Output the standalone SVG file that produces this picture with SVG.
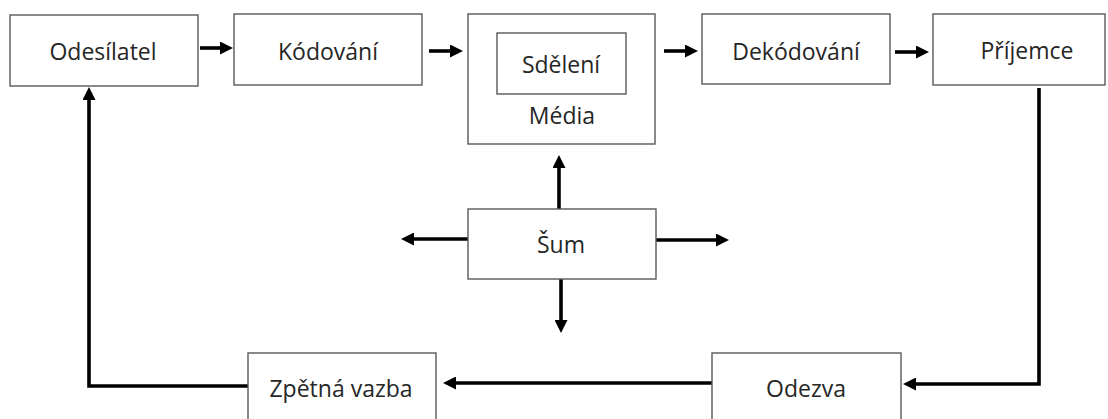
<svg xmlns="http://www.w3.org/2000/svg" width="1108" height="419" viewBox="0 0 1108 419">
<style>
.box{fill:#fff;stroke:#595959;stroke-width:1.4}
.lbl{font-family:"Open Sans","Noto Sans",sans-serif;font-size:23px;fill:#262626;text-anchor:middle}
.con{fill:none;stroke:#000;stroke-width:3.6;stroke-linejoin:miter}
</style>
<defs>
<marker id="ah" markerUnits="userSpaceOnUse" markerWidth="13" markerHeight="13" refX="2" refY="6.5" orient="auto" viewBox="0 0 13 13">
<path d="M0,0 L13,6.5 L0,13 z" fill="#000"/>
</marker>
</defs>
<rect width="1108" height="419" fill="#fff"/>
<g id="connectors">
<path class="con" d="M200,48 H222" marker-end="url(#ah)"/>
<path class="con" d="M429,51 H452" marker-end="url(#ah)"/>
<path class="con" d="M664,51 H687" marker-end="url(#ah)"/>
<path class="con" d="M895,52 H918" marker-end="url(#ah)"/>
<path class="con" d="M1039,88 V384 H914" marker-end="url(#ah)"/>
<path class="con" d="M712,383 H454" marker-end="url(#ah)"/>
<path class="con" d="M248,386 H89 V98" marker-end="url(#ah)"/>
<path class="con" d="M559,209 V166" marker-end="url(#ah)"/>
<path class="con" d="M468,239 H412" marker-end="url(#ah)"/>
<path class="con" d="M656,240 H718" marker-end="url(#ah)"/>
<path class="con" d="M561,279 V322" marker-end="url(#ah)"/>
</g>
<g id="odesilatel"><rect class="box" x="10" y="15" width="188" height="71"/><text class="lbl" x="103" y="60">Odesílatel</text></g>
<g id="kodovani"><rect class="box" x="234" y="14" width="188" height="71"/><text class="lbl" x="328" y="60">Kódování</text></g>
<g id="media"><rect class="box" x="468" y="14" width="187" height="130"/><text class="lbl" x="562" y="124">Média</text></g>
<g id="sdeleni"><rect class="box" x="497" y="33" width="129" height="61"/><text class="lbl" x="561" y="73">Sdělení</text></g>
<g id="dekodovani"><rect class="box" x="702" y="14" width="188" height="70"/><text class="lbl" x="796" y="60">Dekódování</text></g>
<g id="prijemce"><rect class="box" x="933" y="14" width="172" height="71"/><text class="lbl" x="1027" y="59">Příjemce</text></g>
<g id="sum"><rect class="box" x="468" y="209" width="188" height="70"/><text class="lbl" x="561" y="253">Šum</text></g>
<g id="zpetna-vazba"><rect class="box" x="248" y="353" width="188" height="72"/><text class="lbl" x="341" y="397">Zpětná vazba</text></g>
<g id="odezva"><rect class="box" x="712" y="353" width="189" height="72"/><text class="lbl" x="806" y="397">Odezva</text></g>
</svg>
